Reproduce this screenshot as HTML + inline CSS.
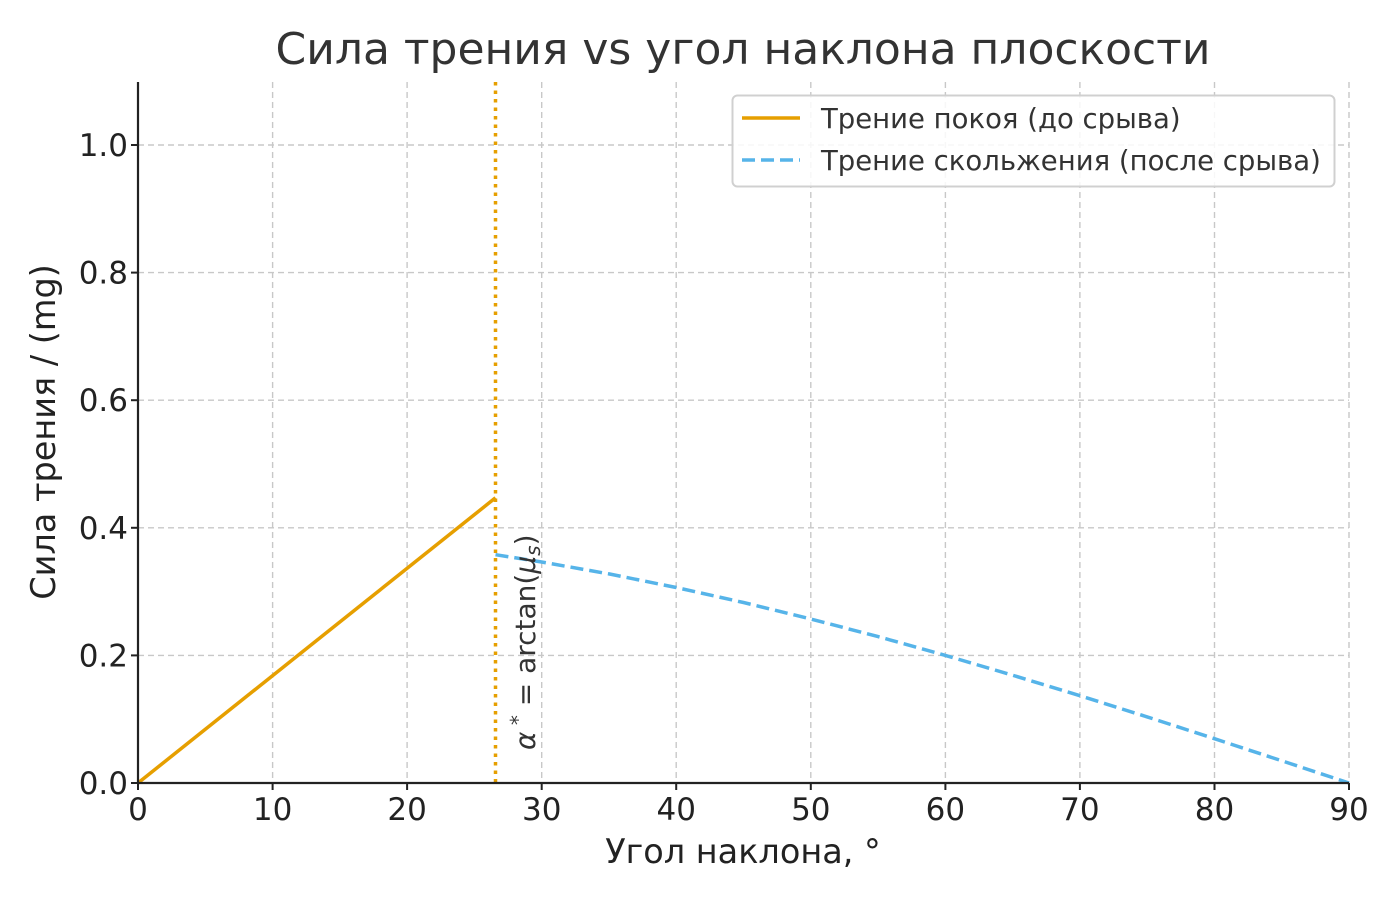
<!DOCTYPE html>
<html><head><meta charset="utf-8"><style>
body{margin:0;background:#fff}
svg{display:block;font-family:"DejaVu Sans","Liberation Sans",sans-serif}
</style></head><body>
<svg width="1400" height="900" viewBox="0 0 1400 900" xmlns="http://www.w3.org/2000/svg">
<rect width="1400" height="900" fill="#fff"/>
<g stroke="#c8c8c8" stroke-width="1.4" stroke-dasharray="6,4">
<line x1="138" y1="82" x2="138" y2="783"/>
<line x1="272.6" y1="82" x2="272.6" y2="783"/>
<line x1="407.1" y1="82" x2="407.1" y2="783"/>
<line x1="541.7" y1="82" x2="541.7" y2="783"/>
<line x1="676.2" y1="82" x2="676.2" y2="783"/>
<line x1="810.8" y1="82" x2="810.8" y2="783"/>
<line x1="945.4" y1="82" x2="945.4" y2="783"/>
<line x1="1079.9" y1="82" x2="1079.9" y2="783"/>
<line x1="1214.5" y1="82" x2="1214.5" y2="783"/>
<line x1="1349" y1="82" x2="1349" y2="783"/>
<line x1="138" y1="655.4" x2="1349" y2="655.4"/>
<line x1="138" y1="527.8" x2="1349" y2="527.8"/>
<line x1="138" y1="400.2" x2="1349" y2="400.2"/>
<line x1="138" y1="272.6" x2="1349" y2="272.6"/>
<line x1="138" y1="145" x2="1349" y2="145"/>
</g>
<line x1="495.5" y1="82" x2="495.5" y2="783" stroke="#E69F00" stroke-width="3.5" stroke-dasharray="3.5,5"/>
<polyline points="138,783 495.5,497.8" fill="none" stroke="#E69F00" stroke-width="3.5"/>
<polyline points="495.5,554.7 541.7,562 609,573.9 676.2,587.5 743.5,602.5 810.8,619 878.1,636.6 945.4,655.4 1012.6,675.2 1079.9,695.7 1147.2,716.9 1214.5,738.7 1281.8,760.8 1349,783" fill="none" stroke="#56B4E9" stroke-width="3.5" stroke-dasharray="13,6"/>
<text transform="translate(535,750) rotate(-90)" font-size="28" fill="#333"><tspan font-style="italic">α</tspan><tspan dy="-10" font-size="20"> *</tspan><tspan dy="10"> = arctan(</tspan><tspan font-style="italic">μ</tspan><tspan font-style="italic" font-size="20" dy="5">s</tspan><tspan dy="-5">)</tspan></text>
<g stroke="#222" stroke-width="2.2">
<line x1="138" y1="82" x2="138" y2="784"/>
<line x1="137" y1="783" x2="1349" y2="783"/>
</g>
<g stroke="#222" stroke-width="2">
<line x1="138" y1="783" x2="138" y2="790"/><line x1="272.6" y1="783" x2="272.6" y2="790"/><line x1="407.1" y1="783" x2="407.1" y2="790"/><line x1="541.7" y1="783" x2="541.7" y2="790"/><line x1="676.2" y1="783" x2="676.2" y2="790"/><line x1="810.8" y1="783" x2="810.8" y2="790"/><line x1="945.4" y1="783" x2="945.4" y2="790"/><line x1="1079.9" y1="783" x2="1079.9" y2="790"/><line x1="1214.5" y1="783" x2="1214.5" y2="790"/><line x1="1349" y1="783" x2="1349" y2="790"/>
<line x1="131" y1="783" x2="138" y2="783"/><line x1="131" y1="655.4" x2="138" y2="655.4"/><line x1="131" y1="527.8" x2="138" y2="527.8"/><line x1="131" y1="400.2" x2="138" y2="400.2"/><line x1="131" y1="272.6" x2="138" y2="272.6"/><line x1="131" y1="145" x2="138" y2="145"/>
</g>
<g font-size="31" fill="#222" text-anchor="middle">
<text x="138" y="820">0</text><text x="272.6" y="820">10</text><text x="407.1" y="820">20</text><text x="541.7" y="820">30</text><text x="676.2" y="820">40</text><text x="810.8" y="820">50</text><text x="945.4" y="820">60</text><text x="1079.9" y="820">70</text><text x="1214.5" y="820">80</text><text x="1349" y="820">90</text>
</g>
<g font-size="31" fill="#222" text-anchor="end">
<text x="128" y="794">0.0</text><text x="128" y="666.4">0.2</text><text x="128" y="538.8">0.4</text><text x="128" y="411.2">0.6</text><text x="128" y="283.6">0.8</text><text x="128" y="156">1.0</text>
</g>
<text x="743" y="863" font-size="33.5" fill="#222" text-anchor="middle">Угол наклона, °</text>
<text transform="translate(55,432) rotate(-90)" font-size="33.5" fill="#222" text-anchor="middle">Сила трения / (mg)</text>
<text x="743" y="64" font-size="44" fill="#333" text-anchor="middle">Сила трения vs угол наклона плоскости</text>
<rect x="732.5" y="95.5" width="602" height="91" rx="5" fill="#fff" fill-opacity="0.85" stroke="#d0d0d0" stroke-width="2"/>
<line x1="742" y1="118" x2="800" y2="118" stroke="#E69F00" stroke-width="3.5"/>
<line x1="742" y1="160" x2="800" y2="160" stroke="#56B4E9" stroke-width="3.5" stroke-dasharray="13,6"/>
<g font-size="27.5" fill="#333">
<text x="821" y="128">Трение покоя (до срыва)</text>
<text x="821" y="170">Трение скольжения (после срыва)</text>
</g>
</svg>
</body></html>
